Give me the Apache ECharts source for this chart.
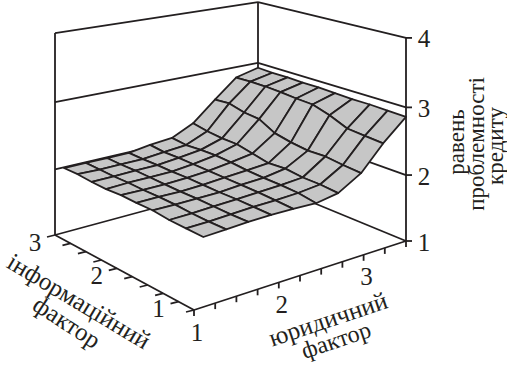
<!DOCTYPE html>
<html><head><meta charset="utf-8">
<style>html,body{margin:0;padding:0;background:#fff}#c{width:507px;height:365px}</style>
<script src="https://cdn.jsdelivr.net/npm/echarts@6/dist/echarts.min.js"></script>
</head><body><div id="c"></div>
<script>
// Data
const yurValues = [1.11,1.38,1.64,1.91,2.17,2.44,2.70,2.97,3.23,3.5];
const infoValues = [0.75,1.03,1.30,1.57,1.83,2.08,2.32,2.55,2.78,3];
// one list per yur value, running from the lowest info value to the highest
const level0 = [2.00,2.00,2.00,2.02,2.01,2.01,1.99,1.99,2.00,1.99];
const level1 = [2.01,2.00,2.00,2.01,2.01,2.00,2.00,1.99,1.99,1.99];
const level2 = [2.02,2.01,2.01,2.01,2.00,2.00,2.00,2.00,1.99,1.99];
const level3 = [2.02,2.02,2.02,2.01,2.01,2.01,2.00,2.00,1.99,1.99];
const level4 = [2.01,2.02,2.03,2.03,2.03,2.03,2.03,2.03,2.02,2.04];
const level5 = [1.99,2.03,2.04,2.04,2.05,2.07,2.08,2.07,2.05,2.07];
const level6 = [2.04,2.06,2.06,2.09,2.07,2.12,2.17,2.17,2.19,2.23];
const level7 = [2.23,2.25,2.28,2.27,2.30,2.35,2.48,2.50,2.56,2.54];
const level8 = [2.57,2.59,2.61,2.72,2.80,2.81,2.83,2.84,2.84,2.83];
const level9 = [2.86,2.87,2.88,2.88,2.89,2.90,2.90,2.91,2.91,2.92];
const levels = [level0,level1,level2,level3,level4,level5,level6,level7,level8,level9];
const yurTicks = [1,1.25,1.5,1.75,2,2.25,2.5,2.75,3,3.25,3.5];
const infoTicks = [0.75,1,1.25,1.5,1.75,2,2.25,2.5,2.75,3];
const zTicks = [1,2,3,4];
const yurLabels = [1,2,3];
const infoLabels = [1,2,3];
const zLabels = [1,2,3,4];
const zAxisTitle = ['равень','проблемності','кредиту'];
const infoTitle = ['інформаційний','фактор'];
const yurTitle = ['юридичний','фактор'];

// Projection of the 3D box onto the page
const YMIN=1,YMAX=3.5,IMIN=0.75,IMAX=3,ZMIN=1,ZMAX=4;
const cB=[194,310,72],cC=[406,241,67.7],cA=[55,235,67.3],cD=[258,180,59.3];
function project(yur,info,z){
  const s=(yur-YMIN)/(YMAX-YMIN), t=(info-IMIN)/(IMAX-IMIN);
  const mix=k=>(1-s)*(1-t)*cB[k]+s*(1-t)*cC[k]+(1-s)*t*cA[k]+s*t*cD[k];
  const r=(z-ZMIN)/(ZMAX-ZMIN);
  const f=r/(1+0.04*(1-r));
  return [mix(0), mix(1)-3*mix(2)*f];
}
const INK='#231f20', FILL='#c6c6c6';
const SERIF='"Liberation Serif","Times New Roman",serif';
const LW=1.8;

// frame segments in data units: [y1,i1,z1,y2,i2,z2]
const back=[], front=[];
back.push([YMIN,IMAX,ZMIN,YMIN,IMAX,ZMAX],[YMAX,IMAX,ZMIN,YMAX,IMAX,ZMAX]);
back.push([YMIN,IMAX,ZMIN,YMAX,IMAX,ZMIN],[YMAX,IMIN,ZMIN,YMAX,IMAX,ZMIN]);
zTicks.slice(1).forEach(z=>{
  back.push([YMIN,IMAX,z,YMAX,IMAX,z],[YMAX,IMAX,z,YMAX,IMIN,z]);
});
front.push([YMAX,IMIN,ZMIN,YMAX,IMIN,ZMAX]);
front.push([YMIN,IMIN,ZMIN,YMIN,IMAX,ZMIN],[YMIN,IMIN,ZMIN,YMAX,IMIN,ZMIN]);

function segItem(p,api,d){
  const a=api.coord(project(d[0],d[1],d[2])), b=api.coord(project(d[3],d[4],d[5]));
  return {type:'line',shape:{x1:a[0],y1:a[1],x2:b[0],y2:b[1]},style:{stroke:INK,lineWidth:LW}};
}
const quads=[];
for(let j=infoValues.length-2;j>=0;j--)for(let i=yurValues.length-2;i>=0;i--)quads.push([i,j]);

function text(pt,str,size){
  return {type:'text',x:pt[0],y:pt[1],style:{text:String(str),textAlign:'center',textVerticalAlign:'middle',font:size+'px '+SERIF,fill:INK}};
}
const ticks=[];
yurTicks.forEach(v=>ticks.push(['y',v]));
infoTicks.forEach(v=>ticks.push(['i',v]));
zTicks.forEach(v=>ticks.push(['z',v]));
const labs=[];
yurLabels.forEach(v=>labs.push(['y',v]));
infoLabels.forEach(v=>labs.push(['i',v]));
zLabels.forEach(v=>labs.push(['z',v]));

const base={type:'custom',coordinateSystem:'cartesian2d',silent:true,animation:false,clip:false};
const titleStyle=(t,x,y,rot,size)=>({type:'text',x,y,rotation:rot*Math.PI/180,silent:true,
  style:{text:t,textAlign:'center',textVerticalAlign:'middle',font:size+'px '+SERIF,fill:INK}});

const chart=echarts.init(document.getElementById('c'),null,{renderer:'svg',width:507,height:365});
chart.setOption({
  animation:false,
  grid:{left:0,right:0,top:0,bottom:0},
  xAxis:{type:'value',min:0,max:507,show:false},
  yAxis:{type:'value',min:0,max:365,inverse:true,show:false},
  tooltip:{show:false},
  series:[
    Object.assign({},base,{name:'back',z:1,data:back,
      renderItem:(p,api)=>segItem(p,api,back[p.dataIndex])}),
    Object.assign({},base,{name:'surface',z:2,data:quads,
      renderItem:(p,api)=>{
        const i=api.value(0), j=api.value(1);
        const c=[[i,j],[i+1,j],[i+1,j+1],[i,j+1]].map(q=>api.coord(project(yurValues[q[0]],infoValues[q[1]],levels[q[0]][q[1]])));
        return {type:'polygon',shape:{points:c},style:{fill:FILL,stroke:INK,lineWidth:LW,lineJoin:'round'}};
      }}),
    Object.assign({},base,{name:'front',z:3,data:front,
      renderItem:(p,api)=>segItem(p,api,front[p.dataIndex])}),
    Object.assign({},base,{name:'ticks',z:3,data:ticks.map((t,k)=>[k]),
      renderItem:(p,api)=>{
        const t=ticks[p.dataIndex];
        let a,d;
        if(t[0]==='y'){a=project(t[1],IMIN,ZMIN);d=[0,6];}
        else if(t[0]==='i'){a=project(YMIN,t[1],ZMIN);d=[-8,2];}
        else {a=project(YMAX,IMIN,t[1]);d=[6,0];}
        const A=api.coord(a);
        return {type:'line',shape:{x1:A[0],y1:A[1],x2:A[0]+d[0],y2:A[1]+d[1]},style:{stroke:INK,lineWidth:LW}};
      }}),
    Object.assign({},base,{name:'labels',z:4,data:labs.map((t,k)=>[k]),
      renderItem:(p,api)=>{
        const t=labs[p.dataIndex];
        let a,d;
        if(t[0]==='y'){a=project(t[1],IMIN,ZMIN);d=[3,22];}
        else if(t[0]==='i'){a=project(YMIN,t[1],ZMIN);d=[-20,7];}
        else {a=project(YMAX,IMIN,t[1]);d=[18,1];}
        const A=api.coord(a);
        return text([A[0]+d[0],A[1]+d[1]],t[1],25);
      }})
  ],
  graphic:[
    titleStyle(zAxisTitle[0],456,142,90,23),
    titleStyle(zAxisTitle[1],476,144,90,23),
    titleStyle(zAxisTitle[2],495,146,90,23),
    titleStyle(infoTitle[0],79,301,-31,25),
    titleStyle(infoTitle[1],67,322,-33,25),
    titleStyle(yurTitle[0],328,319,18.6,25),
    titleStyle(yurTitle[1],336,340,18.6,24)
  ]
});
</script></body></html>
